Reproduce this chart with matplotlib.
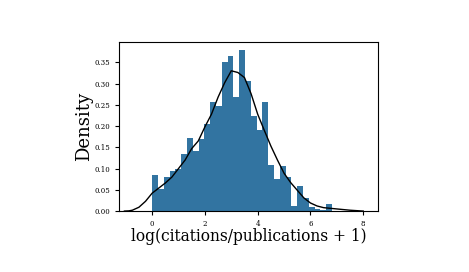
import matplotlib
matplotlib.use("Agg")
import matplotlib.pyplot as plt
import numpy as np

# histogram (density), bins of width 0.22 starting at 0
bin_width = 0.22
density = [0.085, 0.052, 0.080, 0.094, 0.100, 0.134, 0.172, 0.141, 0.169, 0.205,
           0.256, 0.247, 0.350, 0.365, 0.268, 0.379, 0.306, 0.224, 0.191, 0.256,
           0.108, 0.076, 0.106, 0.080, 0.013, 0.059, 0.030, 0.010, 0.006, 0.003,
           0.016]

# kde curve
kde_x = [-1.05, -0.88, -0.75, -0.5, -0.25, 0.0, 0.25, 0.5, 0.75, 1.0, 1.25, 1.5,
         1.75, 2.0, 2.25, 2.5, 2.75, 3.0, 3.25, 3.5, 3.75, 4.0, 4.25, 4.5, 4.75,
         5.0, 5.25, 5.5, 5.75, 6.0, 6.25, 6.5, 7.0, 7.5, 8.0]
kde_y = [0.0, 0.0005, 0.002, 0.009, 0.023, 0.042, 0.054, 0.066, 0.080, 0.100,
         0.120, 0.147, 0.165, 0.198, 0.228, 0.268, 0.302, 0.330, 0.326, 0.314,
         0.276, 0.228, 0.190, 0.153, 0.120, 0.089, 0.067, 0.049, 0.031, 0.019,
         0.012, 0.008, 0.005, 0.002, 0.0]

plt.rcParams["font.family"] = "DejaVu Serif"

fig = plt.figure(figsize=(4.69, 2.72), dpi=100)
ax = fig.add_axes([0.254, 0.224, 0.552, 0.622])

edges = np.arange(len(density)) * bin_width
ax.bar(edges, density, width=bin_width, align="edge", color="#3274a1", lw=0)
ax.plot(kde_x, kde_y, color="black", lw=1)

ax.set_xlim(-1.25, 8.56)
ax.set_ylim(0, 0.398)
ax.set_xticks([0, 2, 4, 6, 8])
ax.set_yticks(np.arange(0, 0.36, 0.05))
ax.yaxis.set_major_formatter(plt.FormatStrFormatter("%.2f"))
ax.tick_params(labelsize=5, length=3, width=0.8)
ax.set_xlabel("log(citations/publications + 1)", fontsize=11.2, labelpad=0)
ax.set_ylabel("Density", fontsize=13, labelpad=1)

fig.savefig("out.png", dpi=100)
